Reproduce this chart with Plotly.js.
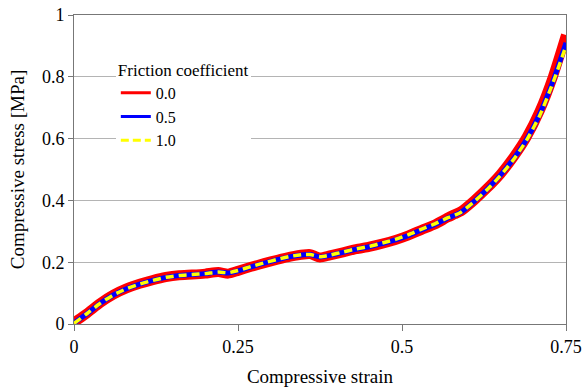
<!DOCTYPE html>
<html>
<head>
<meta charset="utf-8">
<script src="https://cdn.plot.ly/plotly-3.0.1.min.js"></script>
<style>html,body{margin:0;padding:0;background:#fff;}#chart{width:585px;height:387px;}</style>
</head>
<body>
<div id="chart"></div>
<script>
const strain = [0, 0.02, 0.04, 0.06, 0.08, 0.10, 0.12, 0.14, 0.16, 0.18, 0.20, 0.22, 0.235, 0.25, 0.27, 0.29, 0.31, 0.33, 0.35, 0.36, 0.375, 0.39, 0.41, 0.43, 0.45, 0.47, 0.49, 0.51, 0.53, 0.55, 0.57, 0.58, 0.59, 0.61, 0.63, 0.65, 0.67, 0.69, 0.71, 0.73, 0.75];
const stress00 = [0.005, 0.035, 0.068, 0.095, 0.115, 0.13, 0.142, 0.152, 0.158, 0.16, 0.163, 0.168, 0.163, 0.172, 0.185, 0.197, 0.208, 0.218, 0.225, 0.226, 0.215, 0.222, 0.232, 0.242, 0.25, 0.26, 0.272, 0.287, 0.305, 0.322, 0.345, 0.355, 0.365, 0.40, 0.44, 0.485, 0.54, 0.605, 0.69, 0.80, 0.935];
const stress05 = [0.003, 0.034, 0.067, 0.094, 0.114, 0.129, 0.141, 0.151, 0.157, 0.16, 0.163, 0.168, 0.165, 0.172, 0.185, 0.197, 0.208, 0.218, 0.224, 0.225, 0.217, 0.222, 0.232, 0.242, 0.25, 0.26, 0.272, 0.287, 0.305, 0.322, 0.343, 0.352, 0.362, 0.397, 0.437, 0.482, 0.535, 0.598, 0.68, 0.785, 0.91];
const stress10 = [0.002, 0.034, 0.067, 0.094, 0.114, 0.129, 0.141, 0.151, 0.157, 0.16, 0.163, 0.168, 0.166, 0.173, 0.186, 0.198, 0.209, 0.219, 0.225, 0.225, 0.218, 0.223, 0.233, 0.243, 0.251, 0.262, 0.274, 0.289, 0.307, 0.324, 0.344, 0.352, 0.362, 0.396, 0.435, 0.48, 0.532, 0.595, 0.675, 0.78, 0.90];
const seriesNames = ["0.0", "0.5", "1.0"];
const xTickVals = [0, 0.25, 0.5, 0.75];
const xTickText = ["0", "0.25", "0.5", "0.75"];
const yTickVals = [0, 0.2, 0.4, 0.6, 0.8, 1];
const yTickText = ["0", "0.2", "0.4", "0.6", "0.8", "1"];

const SERIF = "Liberation Serif";
const colors = ["#ff0000", "#0000ff", "#ffff00"];
const traces = [
  {x: strain, y: stress00, name: seriesNames[0], mode: "lines", showlegend: false, line: {color: colors[0], width: 10, shape: "spline", smoothing: 0.6}},
  {x: strain, y: stress05, name: seriesNames[1], mode: "lines", showlegend: false, line: {color: colors[1], width: 5, shape: "spline", smoothing: 0.6}},
  {x: strain, y: stress10, name: seriesNames[2], mode: "lines", showlegend: false, line: {color: colors[2], width: 3.5, dash: "8px,5px", shape: "spline", smoothing: 0.6}},
  // legend entries with thin swatches, as in the reference
  {x: [null], y: [null], name: seriesNames[0], mode: "lines", line: {color: colors[0], width: 3}},
  {x: [null], y: [null], name: seriesNames[1], mode: "lines", line: {color: colors[1], width: 3}},
  {x: [null], y: [null], name: seriesNames[2], mode: "lines", line: {color: colors[2], width: 3, dash: "8px,4px"}}
];
const layout = {
  width: 585, height: 387,
  margin: {l: 74, r: 19, t: 15, b: 63},
  paper_bgcolor: "#ffffff", plot_bgcolor: "#ffffff",
  font: {family: SERIF, size: 16, color: "#000000"},
  showlegend: true,
  legend: {
    x: 0.085, y: 0.875, xanchor: "left", yanchor: "top",
    bgcolor: "#ffffff", borderwidth: 0,
    font: {family: SERIF, size: 16, color: "#000000"},
    title: {text: "Friction coefficient", font: {family: SERIF, size: 17, color: "#000000"}}
  },
  xaxis: {
    range: [0, 0.75], tickvals: xTickVals, ticktext: xTickText,
    showgrid: false, zeroline: false,
    showline: true, linecolor: "#777777", linewidth: 1, mirror: true,
    ticks: "outside", ticklen: 6, tickcolor: "#777777",
    tickfont: {family: SERIF, size: 18, color: "#000000"},
    title: {text: "Compressive strain", font: {family: SERIF, size: 19, color: "#000000"}, standoff: 16}
  },
  yaxis: {
    range: [0, 1], tickvals: yTickVals, ticktext: yTickText,
    showgrid: true, gridcolor: "#b4b4b4", gridwidth: 1, zeroline: false,
    showline: true, linecolor: "#777777", linewidth: 1, mirror: true,
    ticks: "outside", ticklen: 5, tickcolor: "#777777",
    tickfont: {family: SERIF, size: 18, color: "#000000"},
    title: {text: "Compressive stress [MPa]", font: {family: SERIF, size: 19, color: "#000000"}, standoff: 12}
  }
};
Plotly.newPlot("chart", traces, layout, {displayModeBar: false, staticPlot: true});
</script>
</body>
</html>
